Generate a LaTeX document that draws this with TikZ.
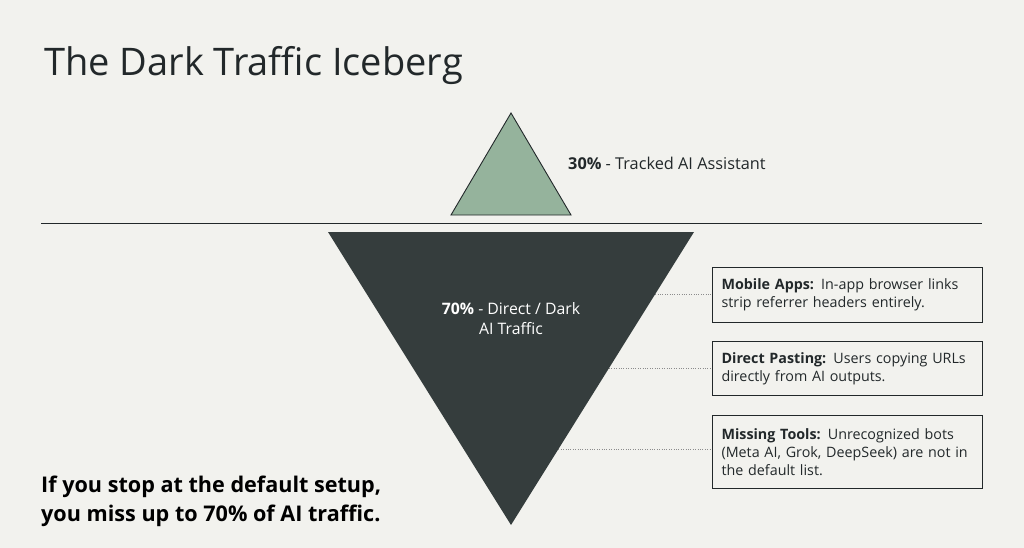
\documentclass[tikz,border=0pt]{standalone}
\usepackage{fontspec}
\setmainfont{Open Sans}
\usetikzlibrary{positioning,calc}

\definecolor{paper}{HTML}{F2F2EE}
\definecolor{ink}{HTML}{22282A}
\definecolor{deep}{HTML}{353D3D}
\definecolor{tip}{HTML}{95B39C}

\begin{document}
\begin{tikzpicture}[
    x=1pt, y=-1pt,
    node distance=18pt,
    note/.style={draw=ink, line width=1.1pt, align=left, anchor=north west,
      text width=252pt, inner sep=9pt, font=\fontsize{14.3}{18}\selectfont, text=ink},
    leader/.style={draw=black!45, line width=0.8pt, dash pattern=on 1pt off 1.4pt}
  ]
    \fill[paper] (0,0) rectangle (1024,548);
    \useasboundingbox (0,0) rectangle (1024,548);

    % title
    \node[anchor=base west, inner sep=0, text=ink, font=\fontsize{38}{44}\selectfont] (title) at (44,76) {The Dark Traffic Iceberg};

    % tip above the waterline
    \coordinate (tipTop) at (511,113);
    \coordinate (tipL) at (451,215);
    \coordinate (tipR) at (571,215);
    \filldraw[fill=tip, draw=ink, line width=0.9pt] (tipTop) -- (tipR) -- (tipL) -- cycle;
    \node[anchor=west, inner sep=0, text=ink, font=\fontsize{16.3}{18}\selectfont] (tracked) at (568,163) {\textbf{30\%} - Tracked AI Assistant};

    % waterline
    \coordinate (waterL) at (41,223.5);
    \coordinate (waterR) at (982,223.5);
    \draw[ink, line width=1.3pt] (waterL) -- (waterR);

    % hidden part
    \coordinate (bergL) at (328,232);
    \coordinate (bergR) at (694,232);
    \coordinate (bergApex) at (511,525);
    \fill[deep] (bergL) -- (bergR) -- (bergApex) -- cycle;
    \node[align=center, text=white, font=\fontsize{15.8}{20}\selectfont] (dark) at (511,319) {\textbf{70\%} - Direct / Dark\\AI Traffic};

    % sources of dark traffic
    \node[note, minimum height=55pt] (mobile) at (712,267) {\textbf{Mobile Apps:} In-app browser links strip referrer headers entirely.};
    \node[note, minimum height=54pt, below=18pt of mobile.south west, anchor=north west] (pasting) {\textbf{Direct Pasting:} Users copying URLs directly from AI outputs.};
    \node[note, minimum height=73pt, below=19pt of pasting.south west, anchor=north west] (missing) {\textbf{Missing Tools:} Unrecognized bots (Meta AI, Grok, DeepSeek) are not in the default list.};

    \coordinate (edgeA) at ($(bergR)!0.2116!(bergApex)$);
    \coordinate (edgeB) at ($(bergR)!0.4642!(bergApex)$);
    \coordinate (edgeC) at ($(bergR)!0.7406!(bergApex)$);
    \draw[leader] (edgeA) -- (edgeA -| mobile.west);
    \draw[leader] (edgeB) -- (edgeB -| pasting.west);
    \draw[leader] (edgeC) -- (edgeC -| missing.west);

    % takeaway
    \node[anchor=west, align=left, inner sep=0, text=black, font=\bfseries\fontsize{21.6}{29}\selectfont] (takeaway) at (41,501) {If you stop at the default setup,\\you miss up to 70\% of AI traffic.};
  \end{tikzpicture}
\end{document}
